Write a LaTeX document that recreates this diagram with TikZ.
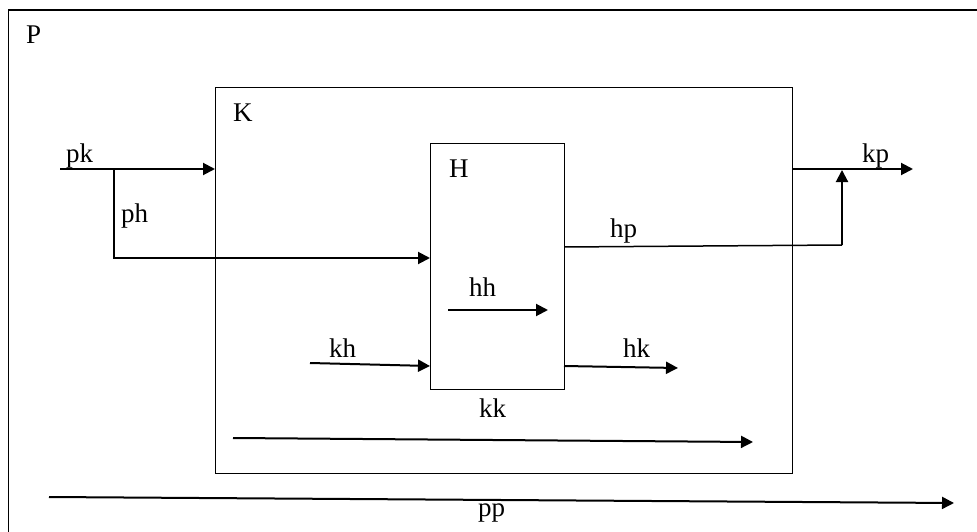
\documentclass[tikz,border=0pt]{standalone}
\usepackage{fontspec}
\setmainfont{Liberation Serif}
\usetikzlibrary{arrows.meta}
\begin{document}
\begin{tikzpicture}[x=1pt,y=-1pt,
  lbl/.style={inner sep=0pt, anchor=base west, font=\fontsize{27}{30}\selectfont},
  boxline/.style={draw, line width=1.4pt, inner sep=0pt, anchor=north west},
  flow/.style={line width=2pt, -{Triangle[length=12pt,width=12pt]}},
  thinflow/.style={line width=1.5pt, -{Triangle[length=12pt,width=12pt]}},
  plain/.style={line width=2pt}]
\useasboundingbox (0,0) rectangle (977,532);
\clip (0,0) rectangle (977,532);
% boxes
\node[boxline, minimum width=990pt, minimum height=540pt] (P) at (8,9.5) {};
\node[boxline, minimum width=577pt, minimum height=386pt] (K) at (215,87) {};
\node[boxline, minimum width=134pt, minimum height=246pt] (H) at (430,143) {};
% labels
\node[lbl] (lP) at (26,44) {P};
\node[lbl] (lK) at (233,122) {K};
\node[lbl] (lH) at (449,177) {H};
\node[lbl] (lpk) at (66,163) {pk};
\node[lbl] (lph) at (121,222) {ph};
\node[lbl] (lhp) at (610,237) {hp};
\node[lbl] (lkp) at (862,162) {kp};
\node[lbl] (lhh) at (469,296) {hh};
\node[lbl] (lkh) at (329,357) {kh};
\node[lbl] (lhk) at (623,357) {hk};
\node[lbl] (lkk) at (479,417) {kk};
\node[lbl] (lpp) at (478,516) {pp};
% coordinates
\coordinate (pks) at (60,169);
\coordinate (phj) at (114,169);
\coordinate (phb) at (114,258);
\coordinate (hps) at (564,247);
\coordinate (hpc) at (842,245);
\coordinate (hpe) at (842,170);
\coordinate (kpe) at (913,169);
\coordinate (hhs) at (448,310);
\coordinate (hhe) at (548,310);
\coordinate (khs) at (310,363);
\coordinate (khe) at (430,366);
\coordinate (hke) at (678,368);
\coordinate (kks) at (233,438);
\coordinate (kke) at (753,442);
\coordinate (pps) at (49,497);
\coordinate (ppe) at (954,503);
% connectors
\draw[flow] (pks) -- (pks -| K.west);
\draw[flow] (phj) -- (phb) -- (phb -| H.west);
\draw[line width=1.5pt] (hps) -- (hpc);
\draw[flow] (hpc) -- (hpe);
\draw[flow] (pks -| K.east) -- (kpe);
\draw[flow] (hhs) -- (hhe);
\draw[flow] (khs) -- (khe);
\draw[flow] (hps |- khe) -- (hke);
\draw[flow] (kks) -- (kke);
\draw[flow] (pps) -- (ppe);
\end{tikzpicture}
\end{document}
